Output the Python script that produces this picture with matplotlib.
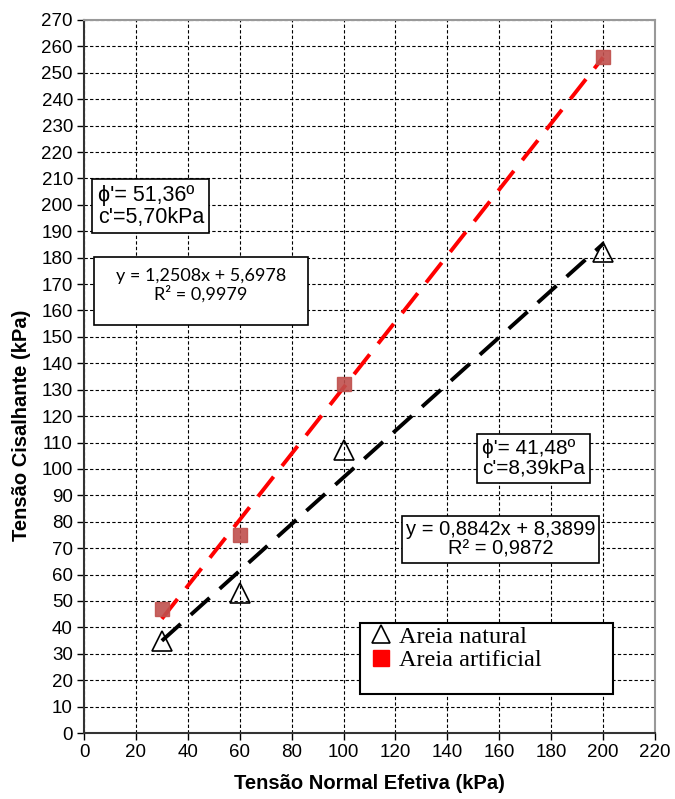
import numpy as np
import matplotlib.pyplot as plt
from matplotlib.lines import Line2D
from matplotlib.patches import Rectangle

# ensaio de cisalhamento direto
sigma = [30, 60, 100, 200]
tau_natural = [35, 53, 107, 182]
tau_artificial = [47, 75, 132, 256]

# coeficientes das linhas de tendencia
fit_natural = (0.8842, 8.3899)
fit_artificial = (1.2508, 5.6978)

plt.rcParams['font.family'] = ['Liberation Sans', 'DejaVu Sans']

fig = plt.figure(figsize=(6.75, 7.99), dpi=100)
ax = fig.add_axes([84/675, 1 - 733/799, (655-84)/675, (733-20)/799])

ax.set_xlim(0, 220)
ax.set_ylim(0, 270)
ax.set_xticks(np.arange(0, 221, 20))
ax.set_yticks(np.arange(0, 271, 10))
ax.grid(True, color='black', linestyle=(0, (3, 2)), linewidth=0.8)
ax.set_axisbelow(True)
ax.tick_params(labelsize=13.5, length=5, width=1, pad=3)
for s in ['left', 'bottom']:
    ax.spines[s].set_linewidth(1.5)
    ax.spines[s].set_color('#333333')
for s in ['top', 'right']:
    ax.spines[s].set_linewidth(1.5)
    ax.spines[s].set_color('#999999')

xs = np.array([sigma[0], sigma[-1]])
ax.plot(xs, fit_artificial[0]*xs + fit_artificial[1], color='red', lw=2.8,
        dashes=(6.5, 3.5), zorder=3)
ax.plot(xs, fit_natural[0]*xs + fit_natural[1], color='black', lw=2.8,
        dashes=(6.5, 3.5), zorder=3)

ax.plot(sigma, tau_artificial, 's', color='#c0504d', ms=10.5, mec='#c0504d',
        alpha=0.9, zorder=4)
ax.plot(sigma, tau_natural, '^', color='black', mfc='none', ms=14, mew=1.2,
        zorder=4)

ax.set_xlabel('Tensão Normal Efetiva (kPa)', fontsize=14.5, fontweight='bold')
ax.set_ylabel('Tensão Cisalhante (kPa)', fontsize=14.5, fontweight='bold')
ax.xaxis.set_label_coords(0.5, -0.058)
ax.yaxis.set_label_coords(-0.093, 0.432)

box = dict(boxstyle='square,pad=0.25', fc='white', ec='black', lw=1.2)
ax.text(5.3, 199.5, "\u03d5'= 51,36º\nc'=5,70kPa", fontsize=15.5, ha='left',
        va='center', bbox=box, linespacing=1.05)

# caixa da equacao (Excel)
ax.add_patch(Rectangle((3.85, 154.5), 82.4, 25.7, fc='white', ec='black',
                       lw=1.2, zorder=5))
ax.text(45.1, 169.6, 'y = 1,2508x + 5,6978\nR² = 0,9979', fontsize=13,
        ha='center', va='center', family=['Lato', 'DejaVu Sans'],
        linespacing=1.1, zorder=6)

ax.text(153.3, 104, "\u03d5'= 41,48º\nc'=8,39kPa", fontsize=15, ha='left',
        va='center', bbox=box, linespacing=1.05)
ax.text(160.5, 73.3, 'y = 0,8842x + 8,3899\nR² = 0,9872', fontsize=14.5,
        ha='center', va='center', linespacing=1.05,
        bbox=dict(boxstyle='square,pad=0.2', fc='white', ec='black', lw=1.2))

# moldura da legenda
ax.add_patch(Rectangle((0.483, 0.055), 0.443, 0.099, transform=ax.transAxes,
                       fc='white', ec='black', lw=1.5, zorder=5))
handles = [Line2D([], [], marker='^', color='black', mfc='none', ls='',
                  ms=13, mew=1.2),
           Line2D([], [], marker='s', color='red', ls='', ms=11.5)]
leg = ax.legend(handles, ['Areia natural', 'Areia artificial'],
                loc='upper left', bbox_to_anchor=(0.49, 0.157),
                prop={'family': 'Liberation Serif', 'size': 17.5},
                frameon=False, handletextpad=0.25, borderpad=0.2,
                labelspacing=0.05, handlelength=1.0, borderaxespad=0)
leg.set_zorder(6)

fig.savefig('out.png', dpi=100)
